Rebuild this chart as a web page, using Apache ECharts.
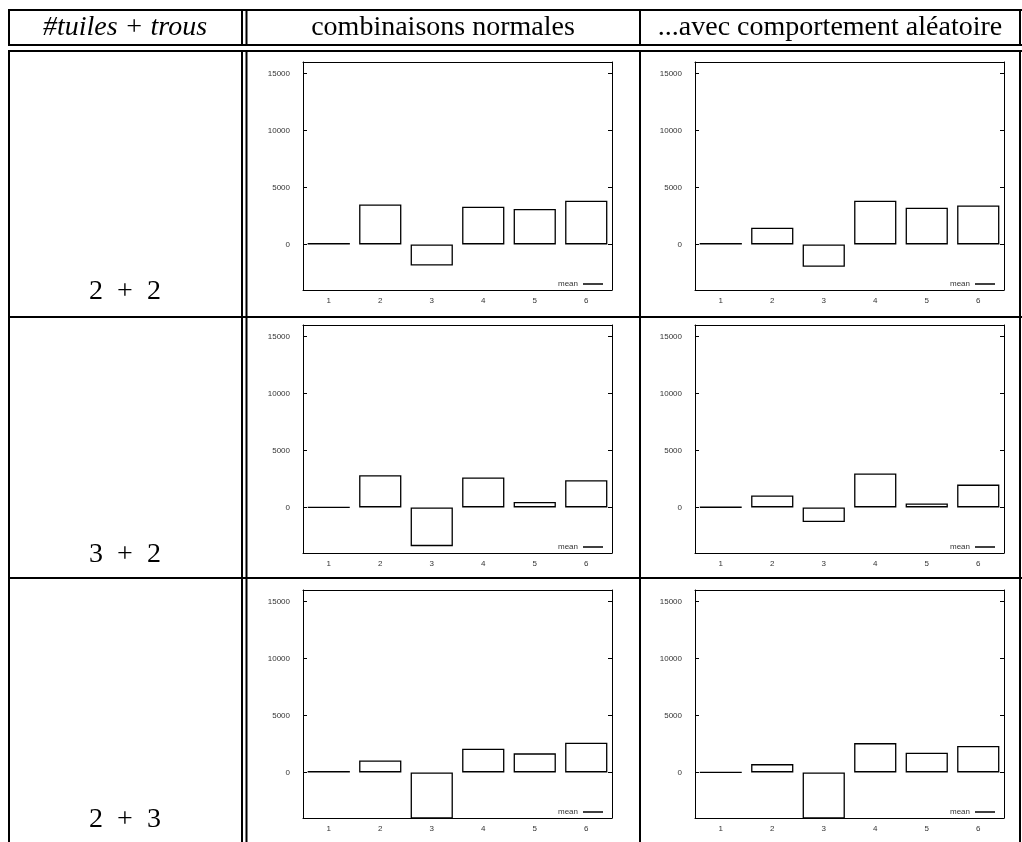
<!DOCTYPE html>
<html>
<head>
<meta charset="utf-8">
<script src="https://cdn.jsdelivr.net/npm/echarts@6/dist/echarts.min.js"></script>
<style>
  html, body { margin: 0; padding: 0; background: #fff; }
  #main { width: 1022px; height: 842px; }
</style>
</head>
<body>
<div id="main"></div>
<script>
// categories and tick labels
var cats = ['1', '2', '3', '4', '5', '6'];
var yTicks = [0, 5000, 10000, 15000];
var yMin = -4000, yMax = 16000;

// mean values, one array per cell (rows: 2+2, 3+2, 2+3)
var normal22 = [130, 3500, -1850, 3300, 3100, 3830];
var random22 = [130, 1460, -1960, 3830, 3220, 3420];
var normal32 = [20, 2820, -3400, 2620, 470, 2380];
var random32 = [30, 1050, -1280, 2970, 350, 2000];
var normal23 = [130, 1050, -4600, 2080, 1670, 2600];
var random23 = [20, 730, -4600, 2570, 1720, 2310];

var rowLabels = ['2  +  2', '3  +  2', '2  +  3'];
var colHeads = ['combinaisons normales', '...avec comportement aléatoire'];

var cells = [normal22, random22, normal32, random32, normal23, random23];

// layout
var W = 1022;
var rowTop = [62, 325, 590];
var colLeft = [303, 695];
var plotW = 309, plotH = 228;
var tickFont = { fontSize: 8, color: '#333', fontFamily: 'Liberation Sans, DejaVu Sans, sans-serif' };

var grids = [], xAxes = [], yAxes = [], series = [], legends = [];

cells.forEach(function (vals, i) {
  var r = Math.floor(i / 2), c = i % 2;
  var left = colLeft[c], top = rowTop[r];
  grids.push({ left: left, top: top, width: plotW, height: plotH, show: false });

  // bottom + mirrored top category axis
  xAxes.push({
    type: 'category', gridIndex: i, data: cats, position: 'bottom',
    axisLine: { onZero: false, lineStyle: { color: '#000', width: 1 } },
    axisTick: { alignWithLabel: true, inside: true, length: 4, interval: 0, lineStyle: { color: '#000' } },
    axisLabel: Object.assign({ margin: 7, interval: 0 }, tickFont),
    splitLine: { show: false }
  });
  xAxes.push({
    type: 'category', gridIndex: i, data: cats, position: 'top',
    axisLine: { onZero: false, lineStyle: { color: '#000', width: 1 } },
    axisTick: { alignWithLabel: true, inside: true, length: 4, interval: 0, lineStyle: { color: '#000' } },
    axisLabel: { show: false },
    splitLine: { show: false }
  });

  // left + mirrored right value axis
  yAxes.push({
    type: 'value', gridIndex: i, min: yMin, max: yMax, position: 'left',
    axisLine: { show: true, onZero: false, lineStyle: { color: '#000', width: 1 } },
    axisTick: { show: true, inside: true, length: 4, customValues: yTicks, lineStyle: { color: '#000' } },
    axisLabel: Object.assign({ margin: 13, customValues: yTicks, formatter: function (v) { return String(v); } }, tickFont),
    splitLine: { show: false }
  });
  yAxes.push({
    type: 'value', gridIndex: i, min: yMin, max: yMax, position: 'right',
    axisLine: { show: true, onZero: false, lineStyle: { color: '#000', width: 1 } },
    axisTick: { show: true, inside: true, length: 4, customValues: yTicks, lineStyle: { color: '#000' } },
    axisLabel: { show: false },
    splitLine: { show: false }
  });

  series.push({
    name: 'mean', type: 'bar',
    xAxisIndex: i * 2, yAxisIndex: i * 2,
    data: vals, barWidth: '82%', clip: true, silent: true,
    itemStyle: { color: 'rgba(255,255,255,0)', borderColor: '#000', borderWidth: 1.3 }
  });

  legends.push({
    data: ['mean'], align: 'right', orient: 'horizontal',
    right: W - (left + plotW - 9), top: top + plotH - 10,
    padding: 0, itemWidth: 20, itemHeight: 1.5, icon: 'rect',
    itemStyle: { color: '#000', borderWidth: 0 },
    textStyle: tickFont, selectedMode: false
  });
});

// table rules and texts
var serif = 'Liberation Serif, DejaVu Serif, serif';
var graphics = [];
function hline(y, x1, x2) {
  graphics.push({ type: 'line', shape: { x1: x1, y1: y, x2: x2, y2: y }, style: { stroke: '#000', lineWidth: 2 } });
}
function vline(x, y1, y2) {
  graphics.push({ type: 'line', shape: { x1: x, y1: y1, x2: x, y2: y2 }, style: { stroke: '#000', lineWidth: 2 } });
}
hline(10, 8, 1022);
hline(45, 8, 1022);
hline(51, 8, 1022);
hline(317, 8, 1022);
hline(578, 8, 1022);
[9, 242, 246.5, 640, 1020].forEach(function (x) {
  vline(x, 9, 46);
  vline(x, 50, 842);
});

graphics.push({
  type: 'text', x: 125, y: 28,
  style: { text: '#tuiles + trous', font: 'italic 28px ' + serif, fill: '#000', align: 'center', verticalAlign: 'middle' }
});
graphics.push({
  type: 'text', x: 443, y: 28,
  style: { text: colHeads[0], font: '28px ' + serif, fill: '#000', align: 'center', verticalAlign: 'middle' }
});
graphics.push({
  type: 'text', x: 830, y: 28,
  style: { text: colHeads[1], font: '28px ' + serif, fill: '#000', align: 'center', verticalAlign: 'middle' }
});
var labelBase = [306, 569, 834];
rowLabels.forEach(function (t, r) {
  graphics.push({
    type: 'text', x: 125, y: labelBase[r],
    style: { text: t, font: '28px ' + serif, fill: '#000', align: 'center', verticalAlign: 'bottom' }
  });
});

var chart = echarts.init(document.getElementById('main'));
chart.setOption({
  animation: false,
  backgroundColor: '#fff',
  grid: grids,
  xAxis: xAxes,
  yAxis: yAxes,
  legend: legends,
  series: series,
  graphic: graphics
});
window.onresize = chart.resize;
</script>
</body>
</html>
